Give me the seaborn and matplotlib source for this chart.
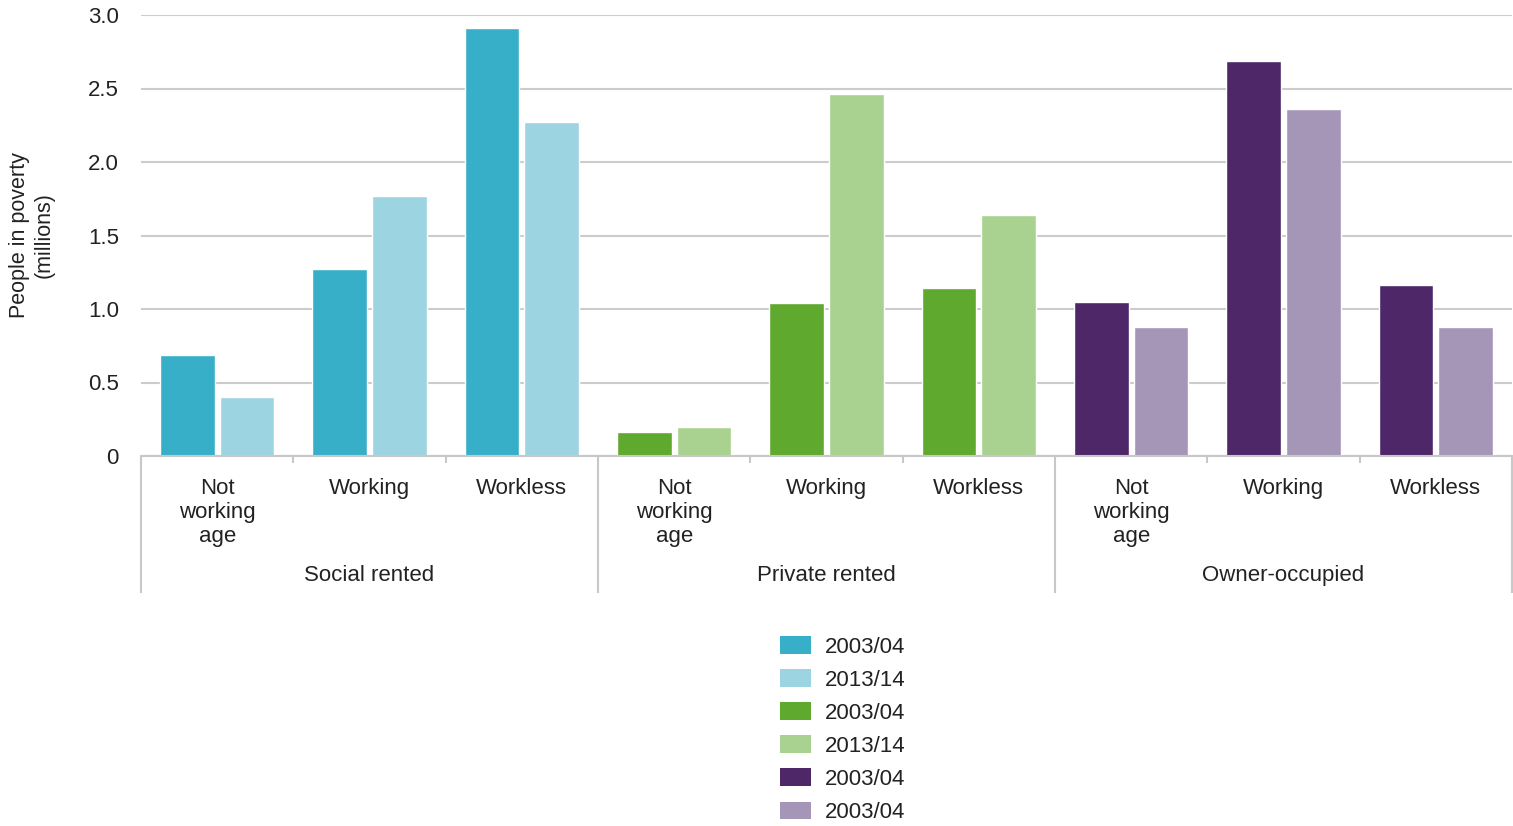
import matplotlib
matplotlib.use("Agg")
import matplotlib.pyplot as plt
from matplotlib.patches import Patch
import numpy as np
import pandas as pd
import seaborn as sns

# Poverty by housing tenure and work status (millions of people)
tenures = ["Social rented", "Private rented", "Owner-occupied"]
statuses = ["Not\nworking\nage", "Working", "Workless"]
years = ["2003/04", "2013/14"]

social_2003 = [0.69, 1.27, 2.91]
social_2013 = [0.40, 1.77, 2.27]
private_2003 = [0.16, 1.04, 1.14]
private_2013 = [0.20, 2.46, 1.64]
owner_2003 = [1.05, 2.69, 1.16]
owner_2013 = [0.88, 2.36, 0.88]

legend_labels = ["2003/04", "2013/14", "2003/04", "2013/14", "2003/04", "2003/04"]

palettes = {
    "Social rented": ["#38AFC8", "#9DD4E1"],
    "Private rented": ["#60A92F", "#A9D18F"],
    "Owner-occupied": ["#4E2768", "#A596B8"],
}

values = {
    "Social rented": (social_2003, social_2013),
    "Private rented": (private_2003, private_2013),
    "Owner-occupied": (owner_2003, owner_2013),
}

rows = []
for t in tenures:
    for yi, y in enumerate(years):
        for s, v in zip(statuses, values[t][yi]):
            rows.append({"tenure": t, "status": s, "year": y,
                         "key": f"{t}|{s}", "value": v})
df = pd.DataFrame(rows)
keys = [f"{t}|{s}" for t in tenures for s in statuses]

sns.set_theme(style="white")
plt.rcParams["font.family"] = ["Liberation Sans", "DejaVu Sans"]
text_color = "#222222"

fig = plt.figure(figsize=(15.13, 8.26), dpi=100)
ax = fig.add_axes([141 / 1513, 1 - 456 / 826, 1371 / 1513, 441 / 826])

for t in tenures:
    sub = df[df["tenure"] == t]
    sns.barplot(data=sub, x="key", y="value", hue="year", order=keys,
                hue_order=years, palette=palettes[t], width=0.78, gap=0.08,
                dodge=True, saturation=1, legend=False, ax=ax, errorbar=None)

ax.set_xlim(-0.5, len(keys) - 0.5)
ax.set_ylim(0, 3.0)
yt = np.arange(0, 3.01, 0.5)
ax.set_yticks(yt)
ax.set_yticklabels(["0"] + [f"{v:.1f}" for v in yt[1:]], fontsize=16, color=text_color)
ax.tick_params(axis="y", length=0, pad=16)
ax.yaxis.grid(True, color="#CCCCCC", linewidth=1.5)
ax.set_axisbelow(True)
for side in ["left", "right", "top"]:
    ax.spines[side].set_visible(False)
ax.spines["bottom"].set_color("#C8C8C8")
ax.spines["bottom"].set_linewidth(1.5)

# Two-level category axis
ax.set_xticks([])
ax.set_xlabel("")
ax.set_ylabel("People in poverty\n(millions)", fontsize=15.5, color=text_color,
              linespacing=1.25)
ax.yaxis.set_label_coords(-0.063, 0.5)

xtr = ax.get_xaxis_transform()
n_s = len(statuses)
for gi, t in enumerate(tenures):
    for si, s in enumerate(statuses):
        idx = gi * n_s + si
        ax.text(idx, -0.05, s, transform=xtr, ha="center", va="top",
                fontsize=16, color=text_color, linespacing=1.2)
    ax.text(gi * n_s + (n_s - 1) / 2, -0.248, t, transform=xtr, ha="center",
            va="top", fontsize=16, color=text_color)

group_edges = [g * n_s - 0.5 for g in range(len(tenures) + 1)]
ax.vlines(group_edges, -0.31, 0, transform=xtr, colors="#C8C8C8",
          linewidth=1.5, clip_on=False)
inner_edges = [g * n_s + k - 0.5 for g in range(len(tenures)) for k in range(1, n_s)]
ax.vlines(inner_edges, -0.015, 0, transform=xtr, colors="#C8C8C8",
          linewidth=1.5, clip_on=False)

handles = [Patch(facecolor=palettes[t][yi], edgecolor="none")
           for t in tenures for yi in range(len(years))]
fig.legend(handles, legend_labels, loc="upper left",
           bbox_to_anchor=(780 / 1513, 1 - 636 / 826), frameon=False,
           fontsize=16, handlelength=1.4, handleheight=0.85,
           handletextpad=0.6, labelspacing=0.52, borderpad=0,
           borderaxespad=0, labelcolor=text_color)

fig.savefig("out.png", dpi=100)
